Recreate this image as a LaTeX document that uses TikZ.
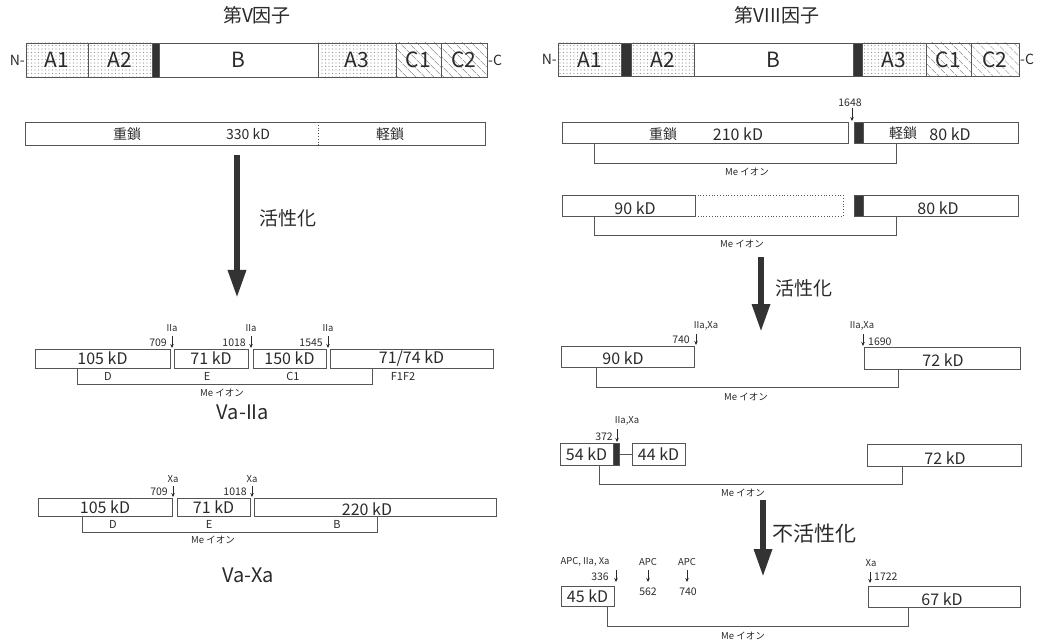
\documentclass[tikz,border=0pt]{standalone}
\usepackage{fontspec}
\setmainfont{Noto Sans CJK JP}
\usetikzlibrary{arrows.meta,patterns.meta}
\definecolor{ln}{HTML}{555555}
\definecolor{dk}{HTML}{333333}
\definecolor{tx}{HTML}{2A2A2A}
\newcommand\bx[7]{\node[#6, minimum width={(#4-#2)*1pt}, minimum height={(#5-#3)*1pt}] (#1) at ({(#2+#4)/2},{(#3+#5)/2}) {#7};}
\tikzset{
 seg/.style={draw=ln, line width=0.8pt, inner sep=0pt, outer sep=0pt, font=\fontsize{16}{16}\selectfont, text=tx},
 dom/.style={seg, font=\fontsize{21}{21}\selectfont},
 dotsfill/.style={pattern={Dots[distance=3.5pt,radius=0.55pt]}, pattern color=gray!85},
 hatch/.style={pattern={Lines[angle=-45,distance=6.5pt,line width=0.6pt]}, pattern color=gray!90!black},
 blk/.style={seg, fill=dk},
 dotbox/.style={draw=ln, dotted, line width=0.8pt, inner sep=0pt},
 bracket/.style={draw=ln, line width=0.8pt},
 cut/.style={draw=tx, line width=0.7pt, -{Stealth[length=4pt,width=3.5pt]}},
 lab/.style={font=\fontsize{14}{14}\selectfont, text=tx, inner sep=0pt},
 kd/.style={font=\fontsize{16}{16}\selectfont, text=tx, inner sep=0pt},
 num/.style={font=\fontsize{10.5}{10.5}\selectfont, text=tx, inner sep=0pt},
 lett/.style={font=\fontsize{11}{11}\selectfont, text=tx, inner sep=0pt},
 enz/.style={font=\fontsize{9.5}{9.5}\selectfont, text=tx, inner sep=0pt},
 meion/.style={font=\fontsize{9.5}{9.5}\selectfont, text=tx, inner sep=0pt},
 ttl/.style={font=\fontsize{19}{19}\selectfont, text=tx, inner sep=0pt},
 big/.style={draw=dk, line width=6pt, -{Triangle[width=17pt,length=28pt]}},
 act/.style={font=\fontsize{19}{19}\selectfont, text=tx, inner sep=0pt},
 vname/.style={font=\fontsize{20}{20}\selectfont, text=tx, inner sep=0pt},
 endl/.style={font=\fontsize{14}{14}\selectfont, text=tx, inner sep=1pt}
}
\begin{document}
\begin{tikzpicture}[x=1pt,y=-1pt]
\useasboundingbox (0,0) rectangle (1041,644);
% ---------- Factor V ----------
\node[ttl] (t5) at (257,15) {第V因子};
\bx{v1}{26}{43}{88}{77}{dom,dotsfill}{A1}
\bx{v2}{88}{43}{152}{77}{dom,dotsfill}{A2}
\bx{vk}{152}{43}{159}{77}{blk}{}
\bx{vb}{159}{43}{318}{77}{dom}{B}
\bx{v3}{318}{43}{396}{77}{dom,dotsfill}{A3}
\bx{vc1}{396}{43}{441}{77}{dom,hatch}{C1}
\bx{vc2}{441}{43}{487}{77}{dom,hatch}{C2}
\node[endl,anchor=east] (vN) at (v1.west) {N-};
\node[endl,anchor=west] (vC) at (vc2.east) {-C};

\bx{vh}{25}{122}{485}{145}{seg}{}
\coordinate (vdv) at (318,0);
\draw[dotted, ln, line width=0.8pt] (vh.north -| vdv) -- (vh.south -| vdv);
\node[lab] (vhl) at (127,134) {重鎖};
\node[lab] (vhm) at (248,134) {330 kD};
\node[lab] (vhr) at (390,134) {軽鎖};

\coordinate (va1) at (237,155); \coordinate (va2) at (237,298);
\draw[big] (va1) -- (va2);
\node[act] (vact) at (288,218) {活性化};

% Va-IIa
\bx{p1}{35}{349}{170}{368}{seg}{105 kD}
\bx{p2}{174}{349}{248}{368}{seg}{71 kD}
\bx{p3}{253}{349}{326}{368}{seg}{150 kD}
\bx{p4}{330}{349}{493}{368}{seg}{71/74 kD}
\foreach \x/\n/\id in {172/709/a,251/1018/b,328/1545/c}{
  \coordinate (pc\id t) at (\x,336); \coordinate (pc\id b) at (\x,348);
  \draw[cut] (pc\id t) -- (pc\id b);
  \node[enz] (pe\id) at (\x,328) {IIa};
  \node[num,anchor=east] (pn\id) at ({\x-5},343) {\n};
}
\coordinate (pbl) at (77,368); \coordinate (pbr) at (372,368); \coordinate (pby) at (0,384);
\draw[bracket] (pbl) -- (pbl |- pby) -| (pbr);
\node[lett] (pD) at (108,376) {D};
\node[lett] (pE) at (207,376) {E};
\node[lett] (pC) at (293,376) {C1};
\node[lett] (pF) at (403,376) {F1F2};
\node[meion] (pm) at (222,393) {Me イオン};
\node[vname] (pname) at (243,412) {Va-IIa};

% Va-Xa
\bx{q1}{38}{498}{172}{516}{seg}{105 kD}
\bx{q2}{177}{498}{250}{516}{seg}{71 kD}
\bx{q3}{254}{498}{496}{516}{seg}{}
\node[kd] (q3t) at (367,509) {220 kD};
\foreach \x/\n/\id in {173/709/a,252/1018/b}{
  \coordinate (qc\id t) at (\x,486); \coordinate (qc\id b) at (\x,497);
  \draw[cut] (qc\id t) -- (qc\id b);
  \node[enz] (qe\id) at (\x,479) {Xa};
  \node[num,anchor=east] (qn\id) at ({\x-5},492) {\n};
}
\coordinate (qbl) at (82,516); \coordinate (qbr) at (377,516); \coordinate (qby) at (0,532);
\draw[bracket] (qbl) -- (qbl |- qby) -| (qbr);
\node[lett] (qD) at (113,524) {D};
\node[lett] (qE) at (209,524) {E};
\node[lett] (qB) at (337,524) {B};
\node[meion] (qm) at (213,540) {Me イオン};
\node[vname] (qname) at (248,575) {Va-Xa};

% ---------- Factor VIII ----------
\node[ttl] (t8) at (777,15) {第VIII因子};
\bx{e1}{558}{43}{621}{76}{dom,dotsfill}{A1}
\bx{ek1}{621}{43}{631}{76}{blk}{}
\bx{e2}{631}{43}{694}{76}{dom,dotsfill}{A2}
\bx{eb}{694}{43}{853}{76}{dom}{B}
\bx{ek2}{853}{43}{862}{76}{blk}{}
\bx{e3}{862}{43}{926}{76}{dom,dotsfill}{A3}
\bx{ec1}{926}{43}{971}{76}{dom,hatch}{C1}
\bx{ec2}{971}{43}{1019}{76}{dom,hatch}{C2}
\node[endl,anchor=east] (eN) at (e1.west) {N-};
\node[endl,anchor=west] (eC) at (ec2.east) {-C};

% row 1
\bx{r1h}{562}{122}{848}{143}{seg}{}
\bx{r1k}{854}{122}{863}{143}{blk}{}
\bx{r1l}{863}{122}{1018}{143}{seg}{}
\node[lab] (r1a) at (663,134) {重鎖};
\node[kd] (r1b) at (738,134) {210 kD};
\node[lab] (r1c) at (903,133) {軽鎖};
\node[kd] (r1d) at (950,134) {80 kD};
\node[num] (r1n) at (850,103) {1648};
\coordinate (r1ct) at (852,108); \coordinate (r1cb) at (852,121);
\draw[cut] (r1ct) -- (r1cb);
\coordinate (r1bl) at (594,143); \coordinate (r1br) at (896,143); \coordinate (r1by) at (0,163);
\draw[bracket] (r1bl) -- (r1bl |- r1by) -| (r1br);
\node[meion] (r1m) at (747,172) {Me イオン};

% row 2
\bx{r2h}{562}{195}{695}{216}{seg}{}
\node[kd] (r2a) at (635,208) {90 kD};
\bx{r2d}{695}{195}{843}{216}{dotbox}{}
\bx{r2k}{854}{195}{863}{216}{blk}{}
\bx{r2l}{863}{195}{1018}{216}{seg}{}
\node[kd] (r2b) at (938,208) {80 kD};
\coordinate (r2bl) at (594,216); \coordinate (r2br) at (896,216); \coordinate (r2by) at (0,235);
\draw[bracket] (r2bl) -- (r2bl |- r2by) -| (r2br);
\node[meion] (r2m) at (742,244) {Me イオン};

\coordinate (ea1) at (761,257); \coordinate (ea2) at (761,332);
\draw[big] (ea1) -- (ea2);
\node[act] (eact) at (804,288) {活性化};

% row 3
\bx{r3a}{561}{346}{694}{367}{seg}{}
\node[kd] (r3at) at (623,358) {90 kD};
\bx{r3b}{864}{347}{1020}{369}{seg}{}
\node[kd] (r3bt) at (943,360) {72 kD};
\coordinate (r3ct) at (696,334); \coordinate (r3cb) at (696,345);
\draw[cut] (r3ct) -- (r3cb);
\node[enz] (r3e) at (706,326) {IIa,Xa};
\node[num,anchor=east] (r3n) at (690,340) {740};
\coordinate (r3dt) at (863,334); \coordinate (r3db) at (863,346);
\draw[cut] (r3dt) -- (r3db);
\node[enz] (r3f) at (862,326) {IIa,Xa};
\node[num,anchor=west] (r3m) at (868,342) {1690};
\coordinate (r3bl) at (596,367); \coordinate (r3br) at (898,369); \coordinate (r3by) at (0,387);
\draw[bracket] (r3bl) -- (r3bl |- r3by) -| (r3br);
\node[meion] (r3mm) at (746,397) {Me イオン};

% row 4
\bx{r4a}{560}{443}{613}{465}{seg}{54 kD}
\bx{r4k}{613}{443}{619}{465}{blk}{}
\bx{r4b}{632}{443}{685}{465}{seg}{44 kD}
\draw[bracket] (r4k.east) -- (r4b.west);
\bx{r4c}{867}{444}{1021}{466}{seg}{}
\node[kd] (r4ct) at (945,458) {72 kD};
\coordinate (r4ct0) at (617,429); \coordinate (r4cb0) at (617,442);
\draw[cut] (r4ct0) -- (r4cb0);
\node[enz] (r4e) at (627,421) {IIa,Xa};
\node[num,anchor=east] (r4n) at (613,437) {372};
\coordinate (r4bl) at (599,465); \coordinate (r4br) at (902,466); \coordinate (r4by) at (0,484);
\draw[bracket] (r4bl) -- (r4bl |- r4by) -| (r4br);
\node[meion] (r4m) at (743,493) {Me イオン};

\coordinate (eb1) at (763,500); \coordinate (eb2) at (763,577);
\draw[big] (eb1) -- (eb2);
\node[font=\fontsize{21}{21}\selectfont, text=tx, inner sep=0pt] (einact) at (814,534) {不活性化};

% row 5
\bx{r5a}{561}{586}{614}{606}{seg}{45 kD}
\bx{r5b}{868}{586}{1020}{607}{seg}{}
\node[kd] (r5bt) at (942,599) {67 kD};
\node[enz] (r5e1) at (585,562) {APC, IIa, Xa};
\node[num,anchor=east] (r5n1) at (609,577) {336};
\coordinate (r5c1t) at (616,570); \coordinate (r5c1b) at (616,582);
\draw[cut] (r5c1t) -- (r5c1b);
\node[enz] (r5e2) at (648,562) {APC};
\coordinate (r5c2t) at (648,570); \coordinate (r5c2b) at (648,582);
\draw[cut] (r5c2t) -- (r5c2b);
\node[num] (r5n2) at (648,592) {562};
\node[enz] (r5e3) at (687,562) {APC};
\coordinate (r5c3t) at (687,570); \coordinate (r5c3b) at (687,582);
\draw[cut] (r5c3t) -- (r5c3b);
\node[num] (r5n3) at (688,592) {740};
\node[enz] (r5e4) at (871,563) {Xa};
\coordinate (r5c4t) at (870,572); \coordinate (r5c4b) at (870,583);
\draw[cut] (r5c4t) -- (r5c4b);
\node[num,anchor=west] (r5n4) at (874,577) {1722};
\coordinate (r5bl) at (607,606); \coordinate (r5br) at (908,607); \coordinate (r5by) at (0,626);
\draw[bracket] (r5bl) -- (r5bl |- r5by) -| (r5br);
\node[meion] (r5m) at (743,636) {Me イオン};
\end{tikzpicture}
\end{document}
